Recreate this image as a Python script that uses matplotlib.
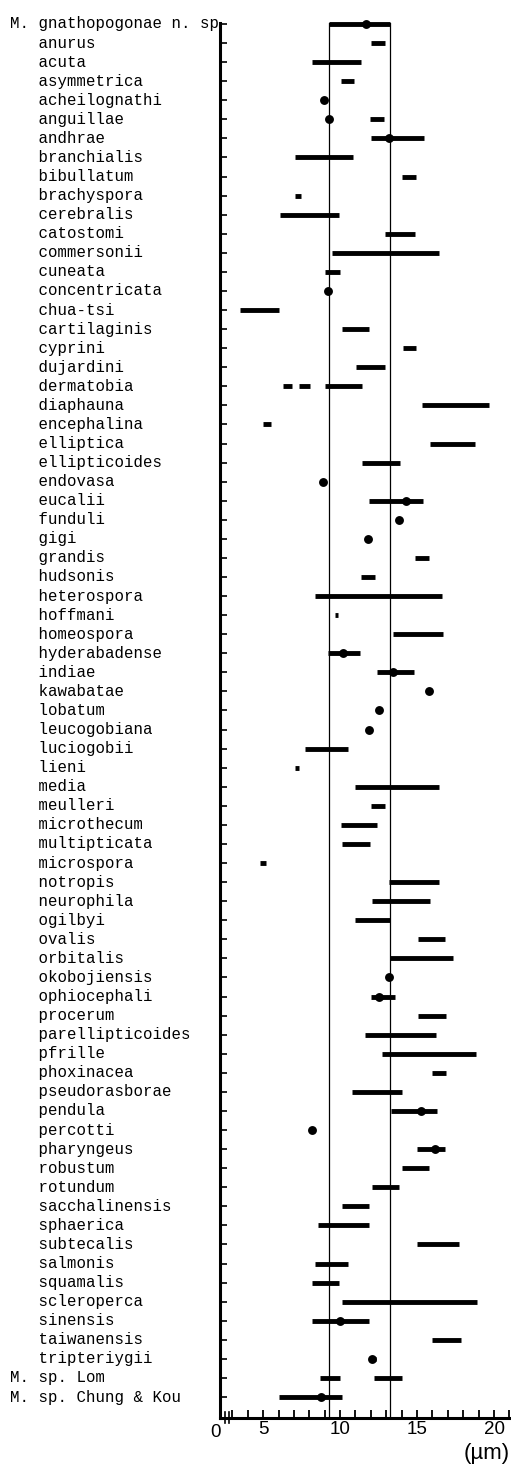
import matplotlib

matplotlib.use("Agg")
import matplotlib.pyplot as plt
from matplotlib import transforms

# Spore size ranges (um) of Myxobolus species
species = [
    "M. gnathopogonae n. sp", "anurus", "acuta", "asymmetrica", "acheilognathi",
    "anguillae", "andhrae", "branchialis", "bibullatum", "brachyspora",
    "cerebralis", "catostomi", "commersonii", "cuneata", "concentricata",
    "chua-tsi", "cartilaginis", "cyprini", "dujardini", "dermatobia",
    "diaphauna", "encephalina", "elliptica", "ellipticoides", "endovasa",
    "eucalii", "funduli", "gigi", "grandis", "hudsonis",
    "heterospora", "hoffmani", "homeospora", "hyderabadense", "indiae",
    "kawabatae", "lobatum", "leucogobiana", "luciogobii", "lieni",
    "media", "meulleri", "microthecum", "multipticata", "microspora",
    "notropis", "neurophila", "ogilbyi", "ovalis", "orbitalis",
    "okobojiensis", "ophiocephali", "procerum", "parellipticoides", "pfrille",
    "phoxinacea", "pseudorasborae", "pendula", "percotti", "pharyngeus",
    "robustum", "rotundum", "sacchalinensis", "sphaerica", "subtecalis",
    "salmonis", "squamalis", "scleroperca", "sinensis", "taiwanensis",
    "tripteriygii", "M. sp. Lom", "M. sp. Chung & Kou",
]

range_species = [
    "M. gnathopogonae n. sp", "anurus", "acuta", "asymmetrica", "anguillae",
    "andhrae", "branchialis", "bibullatum", "brachyspora", "cerebralis",
    "catostomi", "commersonii", "cuneata", "chua-tsi", "cartilaginis",
    "cyprini", "dujardini", "dermatobia", "dermatobia", "dermatobia",
    "diaphauna", "encephalina", "elliptica", "ellipticoides", "eucalii",
    "grandis", "hudsonis", "heterospora", "hoffmani", "homeospora",
    "hyderabadense", "indiae", "luciogobii", "lieni", "media",
    "meulleri", "microthecum", "multipticata", "microspora", "notropis",
    "neurophila", "ogilbyi", "ovalis", "orbitalis", "ophiocephali",
    "procerum", "parellipticoides", "pfrille", "phoxinacea", "pseudorasborae",
    "pendula", "pharyngeus", "robustum", "rotundum", "sacchalinensis",
    "sphaerica", "subtecalis", "salmonis", "squamalis", "scleroperca",
    "sinensis", "taiwanensis", "tripteriygii", "M. sp. Lom", "M. sp. Lom",
    "M. sp. Chung & Kou",
]
range_lo = [
    9.3, 12.0, 8.15, 10.05, 11.95,
    12.0, 7.1, 14.0, 7.1, 6.1,
    12.9, 9.5, 9.0, 3.5, 10.15,
    14.1, 11.05, 6.3, 7.3, 9.05,
    15.35, 5.0, 15.85, 11.4, 11.9,
    14.85, 11.35, 8.35, 9.65, 13.45,
    9.2, 12.4, 7.7, 7.1, 11.0,
    12.0, 10.05, 10.1, 4.8, 13.2,
    12.05, 11.0, 15.05, 13.25, 12.0,
    15.05, 11.6, 12.7, 15.95, 10.75,
    13.3, 15.0, 14.0, 12.1, 10.1,
    8.55, 15.0, 8.35, 8.15, 10.1,
    8.15, 15.95, 11.85, 8.7, 12.2,
    6.05,
]
range_hi = [
    13.25, 12.9, 11.35, 10.9, 12.85,
    15.45, 10.85, 14.9, 7.45, 9.9,
    14.85, 16.4, 10.0, 6.0, 11.9,
    14.95, 12.9, 6.85, 8.05, 11.4,
    19.7, 5.5, 18.75, 13.9, 15.4,
    15.75, 12.25, 16.65, 9.85, 16.7,
    11.3, 14.8, 10.5, 7.35, 16.45,
    12.9, 12.4, 11.95, 5.2, 16.45,
    15.85, 13.25, 16.8, 17.35, 13.55,
    16.85, 16.25, 18.85, 16.85, 14.0,
    16.3, 16.8, 15.75, 13.85, 11.85,
    11.85, 17.75, 10.5, 9.9, 18.9,
    11.9, 17.85, 12.3, 10.0, 14.05,
    10.15,
]

dot_species = [
    "M. gnathopogonae n. sp", "acheilognathi", "anguillae", "andhrae",
    "concentricata", "endovasa", "eucalii", "funduli", "gigi",
    "hyderabadense", "indiae", "kawabatae", "lobatum", "leucogobiana",
    "okobojiensis", "ophiocephali", "pendula", "percotti", "pharyngeus",
    "sinensis", "tripteriygii", "M. sp. Chung & Kou",
]
dot_value = [
    11.7, 8.95, 9.25, 13.2,
    9.2, 8.9, 14.25, 13.85, 11.8,
    10.2, 13.45, 15.8, 12.5, 11.85,
    13.15, 12.5, 15.25, 8.2, 16.15,
    10.0, 12.05, 8.75,
]

x_ticks = list(range(3, 22))
x_labeled = [5, 10, 15, 20]


def main():
    fig = plt.figure(figsize=(5.11, 14.64), dpi=100)
    ax = fig.add_axes([220 / 511, 1 - 1418 / 1464, 1 - 220 / 511, (1418 - 23) / 1464])

    row = {name: i for i, name in enumerate(species)}

    # range bars
    for name, lo, hi in zip(range_species, range_lo, range_hi):
        ax.plot([lo, hi], [row[name], row[name]], color="black", lw=3.5,
                solid_capstyle="butt", clip_on=False, zorder=3)

    # single measurements / means
    ax.plot(dot_value, [row[n] for n in dot_species], "o", color="black",
            ms=6.4, mec="none", clip_on=False, zorder=4)

    # reference lines at the range of the new species
    for v in (range_lo[0], range_hi[0]):
        ax.axvline(v, color="black", lw=0.9, zorder=2)

    ax.set_xlim(2.2, 21.1)
    ax.set_ylim(73.1, -0.05)

    ax.spines["top"].set_visible(False)
    ax.spines["right"].set_visible(False)
    ax.spines["left"].set_linewidth(2.2)
    ax.spines["bottom"].set_linewidth(2.2)

    ax.set_yticks(range(len(species)))
    ax.set_yticklabels([])
    ax.tick_params(axis="y", direction="in", length=5, width=1.2)

    ax.set_xticks(x_ticks)
    ax.set_xticklabels([str(t) if t in x_labeled else "" for t in x_ticks],
                       fontsize=13.5, family="Liberation Sans")
    ax.tick_params(axis="x", direction="in", length=6, width=1.3, pad=2)

    # species names, typewriter style, aligned after the "M. " prefix
    name_tf = transforms.blended_transform_factory(fig.transFigure, ax.transData)
    for name in species:
        label = name if name.startswith("M. ") else "   " + name
        ax.text(10 / 511, row[name], label, transform=name_tf, ha="left",
                va="center", fontsize=11.3, family="Liberation Mono",
                color="black")

    # axis break near the origin and the "0" label
    brk_tf = transforms.blended_transform_factory(ax.transData, ax.transAxes)
    for bx in (2.55, 2.8):
        ax.plot([bx, bx], [-0.0035, 0.0045], color="black", lw=1.2,
                transform=brk_tf, clip_on=False)
    ax.text(1.9, -0.0045, "0", transform=brk_tf, ha="center", va="top",
            fontsize=13.5, family="Liberation Sans")

    fig.text(510 / 511, 1 - 1454 / 1464, "(\u00b5m)", ha="right", va="center",
             fontsize=16, family="Liberation Sans")

    fig.savefig("out.png", dpi=100, facecolor="white")


if __name__ == "__main__":
    main()
